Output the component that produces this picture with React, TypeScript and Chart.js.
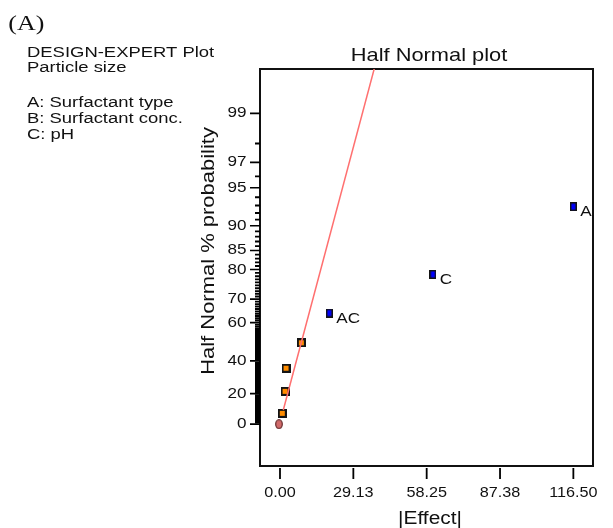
import React, { useEffect, useRef } from 'react';
import { Chart, registerables } from 'chart.js';

Chart.register(...registerables);

// ---------- data ----------
const panelTag = '(A)';
const headerLines = ['DESIGN-EXPERT Plot', 'Particle size'];
const factorLines = ['A: Surfactant type', 'B: Surfactant conc.', 'C: pH'];
const chartTitle = 'Half Normal plot';
const xTitle = '|Effect|';
const yTitle = 'Half Normal % probability';

// error estimate (circle)
const errorEffects = [-0.4];
const errorProbs = [0];
// unlabelled (small) effects, orange squares
const smallEffects = [0.91, 1.99, 2.39, 8.47];
const smallProbs = [7.14, 21.43, 35.71, 50.0];
// labelled (significant) effects, blue squares
const keyNames = ['AC', 'C', 'A'];
const keyEffects = [19.6, 60.7, 116.5];
const keyProbs = [64.29, 78.57, 92.86];
// reference line
const lineEffects = [1.31, 37.45];
const lineProbs = [9.3, 99.68];

// axes
const xTicks = [0, 29.13, 58.25, 87.38, 116.5];
const xTickLabels = ['0.00', '29.13', '58.25', '87.38', '116.50'];
const xRange = [-7.94, 124.3];
const yMajorTicks = [0, 20, 40, 60, 70, 80, 85, 90, 95, 97, 99];
const yMinorTicks: number[] = [];
for (let i = 1; i < 99; i++) if (!yMajorTicks.includes(i)) yMinorTicks.push(i);
const yScoreRange = [-0.347, 2.944]; // normal-score units

// ---------- half-normal probability transform ----------
function invNorm(p: number): number {
  const a = [-3.969683028665376e1, 2.209460984245205e2, -2.759285104469687e2, 1.38357751867269e2, -3.066479806614716e1, 2.506628277459239];
  const b = [-5.447609879822406e1, 1.615858368580409e2, -1.556989798598866e2, 6.680131188771972e1, -1.328068155288572e1];
  const c = [-7.784894002430293e-3, -3.223964580411365e-1, -2.400758277161838, -2.549732539343734, 4.374664141464968, 2.938163982698783];
  const d = [7.784695709041462e-3, 3.224671290700398e-1, 2.445134137142996, 3.754408661907416];
  const plow = 0.02425;
  if (p < plow) {
    const q = Math.sqrt(-2 * Math.log(p));
    return (((((c[0] * q + c[1]) * q + c[2]) * q + c[3]) * q + c[4]) * q + c[5]) / ((((d[0] * q + d[1]) * q + d[2]) * q + d[3]) * q + 1);
  }
  if (p <= 1 - plow) {
    const q = p - 0.5;
    const r = q * q;
    return ((((((a[0] * r + a[1]) * r + a[2]) * r + a[3]) * r + a[4]) * r + a[5]) * q) / (((((b[0] * r + b[1]) * r + b[2]) * r + b[3]) * r + b[4]) * r + 1);
  }
  const q = Math.sqrt(-2 * Math.log(1 - p));
  return -(((((c[0] * q + c[1]) * q + c[2]) * q + c[3]) * q + c[4]) * q + c[5]) / ((((d[0] * q + d[1]) * q + d[2]) * q + d[3]) * q + 1);
}
const score = (pct: number) => invNorm(0.5 + pct / 200);
const pts = (xs: number[], ps: number[]) => xs.map((x, i) => ({ x, y: score(ps[i]) }));

// ---------- markers ----------
function rectMarker(w: number, h: number, bw: number, fill: string) {
  const cv = document.createElement('canvas');
  cv.width = w;
  cv.height = h;
  const c = cv.getContext('2d')!;
  c.fillStyle = '#141414';
  c.fillRect(0, 0, w, h);
  c.fillStyle = fill;
  c.fillRect(bw, bw, w - 2 * bw, h - 2 * bw);
  return cv;
}
function ellipseMarker(w: number, h: number) {
  const cv = document.createElement('canvas');
  cv.width = w;
  cv.height = h;
  const c = cv.getContext('2d')!;
  c.beginPath();
  c.ellipse(w / 2, h / 2, w / 2 - 0.7, h / 2 - 0.7, 0, 0, Math.PI * 2);
  c.fillStyle = '#d06a6a';
  c.fill();
  c.lineWidth = 1.3;
  c.strokeStyle = '#6e3434';
  c.stroke();
  return cv;
}

const SANS = '"Liberation Sans", Arial, sans-serif';
const SERIF = '"Liberation Serif", "Times New Roman", serif';
const INK = '#111';

function drawText(
  ctx: CanvasRenderingContext2D,
  s: string,
  x: number,
  y: number,
  size: number,
  o: { align?: CanvasTextAlign; baseline?: CanvasTextBaseline; stretch?: number; rotate?: number; family?: string } = {}
) {
  ctx.save();
  ctx.translate(x, y);
  if (o.rotate) ctx.rotate(o.rotate);
  ctx.scale(o.stretch ?? 1.18, 1);
  ctx.font = `${size}px ${o.family ?? SANS}`;
  ctx.textAlign = o.align ?? 'left';
  ctx.textBaseline = o.baseline ?? 'alphabetic';
  ctx.fillStyle = INK;
  ctx.fillText(s, 0, 0);
  ctx.restore();
}

const framePlugin = {
  id: 'halfNormalFrame',
  beforeDatasetsDraw(chart: any) {
    const { ctx, chartArea: a, scales } = chart;
    const xs = scales.x;
    const ys = scales.y;
    ctx.save();
    // frame
    ctx.strokeStyle = INK;
    ctx.lineWidth = 2;
    ctx.strokeRect(a.left, a.top, a.right - a.left, a.bottom - a.top);
    // y ticks
    ctx.strokeStyle = '#000';
    ctx.lineWidth = 1.9;
    ctx.beginPath();
    for (const v of yMinorTicks) {
      const py = ys.getPixelForValue(score(v));
      ctx.moveTo(a.left - 5, py);
      ctx.lineTo(a.left, py);
    }
    ctx.stroke();
    ctx.lineWidth = 1.6;
    ctx.beginPath();
    for (const v of yMajorTicks) {
      const py = ys.getPixelForValue(score(v));
      ctx.moveTo(a.left - 10, py);
      ctx.lineTo(a.left, py);
    }
    ctx.stroke();
    // x ticks (detached below the frame)
    ctx.lineWidth = 1.8;
    ctx.beginPath();
    for (const v of xTicks) {
      const px = xs.getPixelForValue(v);
      ctx.moveTo(px, a.bottom + 2);
      ctx.lineTo(px, a.bottom + 13);
    }
    ctx.stroke();
    ctx.restore();

    // tick labels
    for (const v of yMajorTicks) {
      drawText(ctx, String(v), a.left - 13.5, ys.getPixelForValue(score(v)), 14.5, { align: 'right', baseline: 'middle', stretch: 1.18 });
    }
    xTicks.forEach((v, i) => {
      drawText(ctx, xTickLabels[i], xs.getPixelForValue(v), a.bottom + 27, 15, { align: 'center', baseline: 'middle', stretch: 1.08 });
    });

    // titles
    drawText(ctx, chartTitle, (a.left + a.right) / 2 + 2.5, 60.7, 18.5, { align: 'center' });
    drawText(ctx, xTitle, (a.left + a.right) / 2 + 3.5, 524, 18, { align: 'center', stretch: 1.16 });
    drawText(ctx, yTitle, 213.5, 251, 18, { align: 'center', rotate: -Math.PI / 2, stretch: 1.22 });

    // header block
    drawText(ctx, panelTag, 8.3, 30, 22, { family: SERIF });
    const hb = [56.7, 72.2];
    headerLines.forEach((s, i) => drawText(ctx, s, 27, hb[i], 15.5, { stretch: 1.19 }));
    const fb = [106.5, 122.5, 138.5];
    factorLines.forEach((s, i) => drawText(ctx, s, 27, fb[i], 15.5, { stretch: 1.19 }));
  },
  afterDatasetsDraw(chart: any) {
    const { ctx } = chart;
    const meta = chart.getDatasetMeta(3);
    meta.data.forEach((el: any, i: number) => {
      drawText(ctx, keyNames[i], el.x + 7, el.y + 9.5, 14.5, { stretch: 1.18 });
    });
  },
};

export default function App() {
  const ref = useRef<HTMLCanvasElement>(null);
  useEffect(() => {
    const prevMargin = document.body.style.margin;
    document.body.style.margin = '0';
    const canvas = ref.current!;
    const chart = new Chart(canvas, {
      type: 'scatter',
      data: {
        datasets: [
          {
            label: 'line',
            data: pts(lineEffects, lineProbs),
            showLine: true,
            borderColor: '#ff7070',
            borderWidth: 1.5,
            pointRadius: 0,
            fill: false,
          },
          {
            label: 'error',
            data: pts(errorEffects, errorProbs),
            pointStyle: ellipseMarker(8, 10) as any,
            pointRadius: 4,
          },
          {
            label: 'small',
            data: pts(smallEffects, smallProbs),
            pointStyle: rectMarker(9, 9, 2, '#ff8c00') as any,
            pointRadius: 4,
          },
          {
            label: 'key',
            data: pts(keyEffects, keyProbs),
            pointStyle: rectMarker(7, 9, 1.5, '#0000ff') as any,
            pointRadius: 4,
          },
        ],
      },
      options: {
        animation: false,
        responsive: false,
        devicePixelRatio: 1,
        events: [],
        layout: { padding: { left: 260, right: 20, top: 69, bottom: 62 } },
        plugins: { legend: { display: false }, tooltip: { enabled: false }, title: { display: false } },
        scales: {
          x: { type: 'linear', min: xRange[0], max: xRange[1], display: false },
          y: { type: 'linear', min: yScoreRange[0], max: yScoreRange[1], display: false },
        },
      },
      plugins: [framePlugin],
    });
    return () => {
      chart.destroy();
      document.body.style.margin = prevMargin;
    };
  }, []);
  return (
    <div style={{ position: 'absolute', left: 0, top: 0, width: 613, height: 528, background: '#fff' }}>
      <canvas ref={ref} width={613} height={528} style={{ display: 'block' }} />
    </div>
  );
}
